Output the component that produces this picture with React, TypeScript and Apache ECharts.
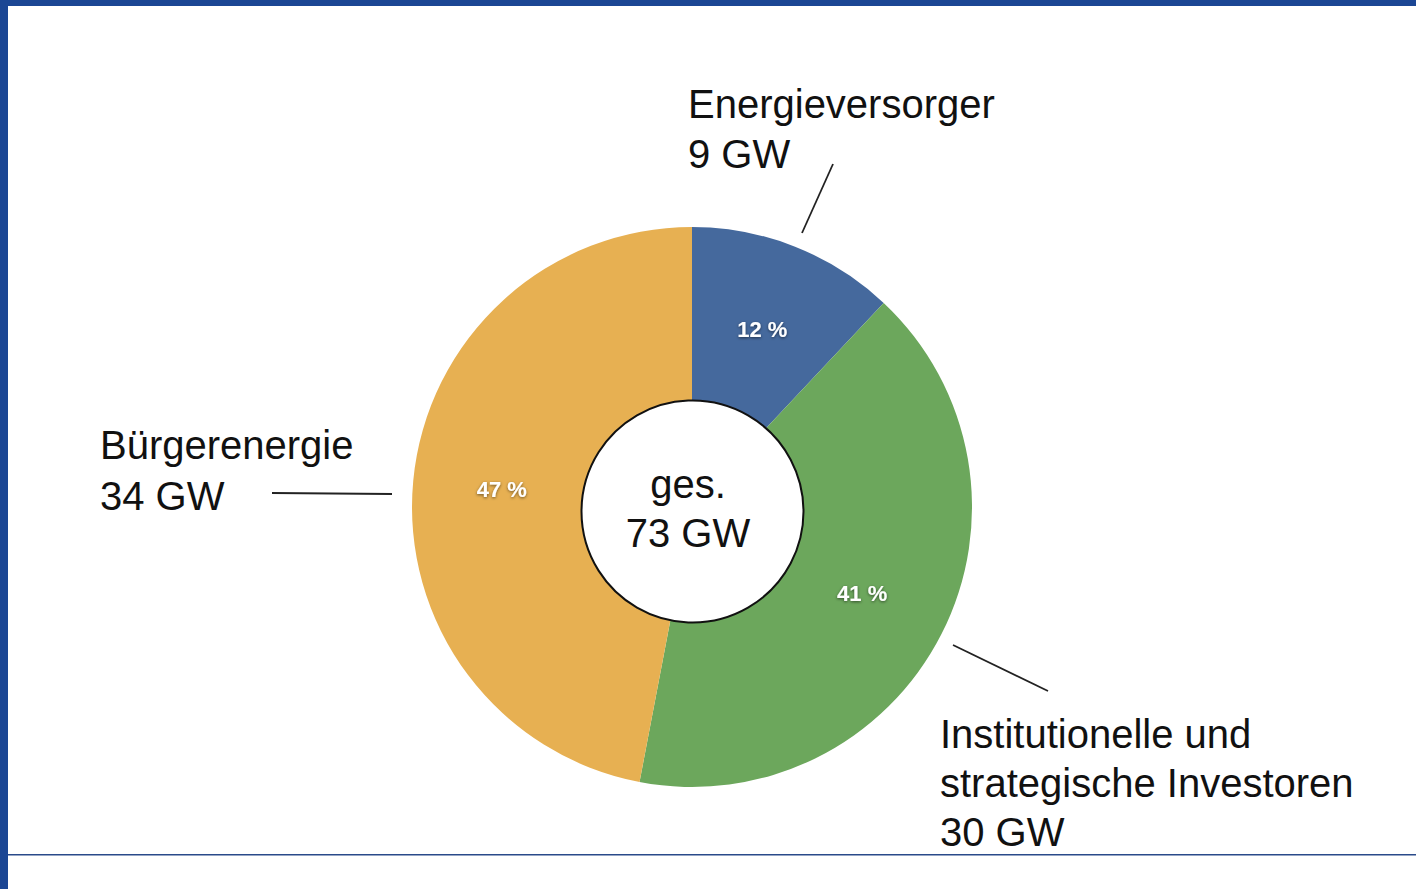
import React, { useEffect, useRef } from "react";
import * as echarts from "echarts";

const categories = ["Energieversorger", "Institutionelle und\nstrategische Investoren", "Bürgerenergie"];
const valuesGW = [9, 30, 34];
const sharePercent = [12, 41, 47];
const colors = ["#45699d", "#6ca75c", "#e7b052"];
const totalLabel = ["ges.", "73 GW"];

export default function App() {
  const ref = useRef<HTMLDivElement>(null);
  useEffect(() => {
    const chart = echarts.init(ref.current!, null, { renderer: "svg" });
    const font = "Liberation Sans, Arial, Helvetica, sans-serif";
    const cx = 692;
    const cy = 507;

    const outerLabel = (idx: number, x: number, ys: number[]) => {
      const lines = [...categories[idx].split("\n"), `${valuesGW[idx]} GW`];
      return lines.map((t, i) => ({
        type: "text",
        x,
        y: ys[i],
        silent: true,
        z: 10,
        style: {
          text: t,
          fill: "#111111",
          fontSize: 40,
          fontFamily: font,
          textAlign: "left",
          textVerticalAlign: "middle",
        },
      }));
    };

    const leader = (x1: number, y1: number, x2: number, y2: number) => ({
      type: "line",
      silent: true,
      z: 10,
      shape: { x1, y1, x2, y2 },
      style: { stroke: "#222222", lineWidth: 1.8 },
    });

    chart.setOption({
      animation: false,
      backgroundColor: "#ffffff",
      series: [
        {
          type: "pie",
          center: [cx, cy],
          radius: [96, 280],
          startAngle: 90,
          clockwise: true,
          percentPrecision: 0,
          silent: true,
          data: categories.map((n, i) => ({
            name: n,
            value: sharePercent[i],
            itemStyle: { color: colors[i] },
          })),
          itemStyle: { borderWidth: 0 },
          label: {
            show: true,
            position: "inside",
            formatter: "{d} %",
            color: "#ffffff",
            fontSize: 22,
            fontWeight: "bold",
            fontFamily: font,
            textShadowColor: "rgba(0,0,0,0.55)",
            textShadowBlur: 3,
            textShadowOffsetY: 1,
          },
          labelLine: { show: false },
        },
      ],
      graphic: [
        { type: "rect", silent: true, z: 20, shape: { x: 0, y: 0, width: 1416, height: 6 }, style: { fill: "#1b4694" } },
        { type: "rect", silent: true, z: 20, shape: { x: 0, y: 0, width: 8, height: 889 }, style: { fill: "#1b4694" } },
        { type: "rect", silent: true, z: 20, shape: { x: 8, y: 854, width: 1408, height: 1.5 }, style: { fill: "#2a4a8a" } },
        {
          type: "circle",
          silent: true,
          z: 5,
          shape: { cx: 692.5, cy: 511.5, r: 111 },
          style: { fill: "#ffffff", stroke: "#111111", lineWidth: 2 },
        },
        {
          type: "text",
          silent: true,
          z: 6,
          x: 688,
          y: 484,
          style: { text: totalLabel[0], fill: "#111111", fontSize: 40, fontFamily: font, textAlign: "center", textVerticalAlign: "middle" },
        },
        {
          type: "text",
          silent: true,
          z: 6,
          x: 688,
          y: 533,
          style: { text: totalLabel[1], fill: "#111111", fontSize: 40, fontFamily: font, textAlign: "center", textVerticalAlign: "middle" },
        },
        ...outerLabel(0, 688, [104, 154]),
        ...outerLabel(2, 100, [445, 496]),
        ...outerLabel(1, 940, [734, 783, 832]),
        leader(833, 164, 802, 233),
        leader(272, 493, 392, 494),
        leader(953, 645, 1048, 691),
      ],
    });
    return () => chart.dispose();
  }, []);
  return (
    <div
      ref={ref}
      style={{ position: "fixed", left: 0, top: 0, width: 1416, height: 889, background: "#fff" }}
    />
  );
}
